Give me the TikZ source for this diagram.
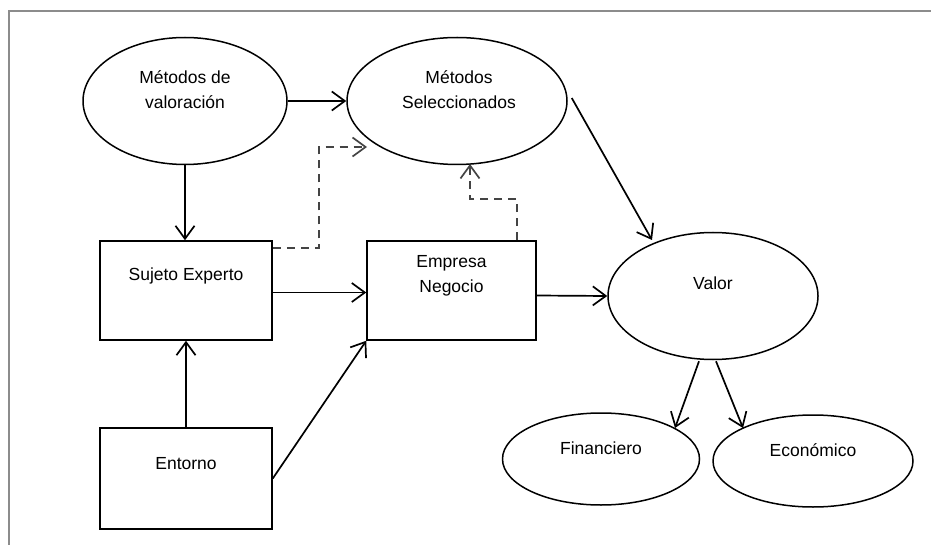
\documentclass[tikz,border=0pt]{standalone}
\usepackage{fontspec}
\setmainfont{Liberation Sans}
\usetikzlibrary{arrows.meta,shapes.geometric,calc}
\definecolor{framegray}{HTML}{8C8C8C}
\definecolor{dashgray}{HTML}{444444}
\begin{document}
\begin{tikzpicture}[x=1pt,y=-1pt,
  every node/.style={font=\fontsize{17.5}{25}\selectfont, inner sep=0pt, align=center},
  ell/.style={draw, ellipse, line width=1.5pt},
  box/.style={draw, rectangle, line width=1.5pt},
  arr/.style={line width=1.7pt, -{Straight Barb[length=13pt,width=19pt,line width=1.7pt]}},
  dsh/.style={line width=1.7pt, dashgray, dash pattern=on 8pt off 6pt, -{Straight Barb[length=13pt,width=19pt,line width=1.7pt,sep=0pt]}},
]
\useasboundingbox (0,0) rectangle (931,545);
\draw[framegray, line width=1.5pt] (9,545) -- (9,11) -- (931,11);

% shapes
\node[ell, minimum width=204pt, minimum height=127pt] (mdv) at (185,101) {};
\node (tmdv) at (185,90) {Métodos de\\valoración};
\node[ell, minimum width=220pt, minimum height=127pt] (ms) at (457,101) {};
\node (tms) at (459,90) {Métodos\\Seleccionados};
\node[box, minimum width=172pt, minimum height=99pt] (suj) at (186,290.5) {};
\node (tsuj) at (186,276) {Sujeto Experto};
\node[box, minimum width=172pt, minimum height=101pt] (ent) at (186,478.5) {};
\node (tent) at (186,464) {Entorno};
\node[box, minimum width=169pt, minimum height=99pt] (emp) at (451.5,290.5) {};
\node (temp) at (451.5,276) {Empresa\\Negocio};
\node[ell, minimum width=210pt, minimum height=127pt] (val) at (713,296) {};
\node (tval) at (713,283) {Valor};
\node[ell, minimum width=197pt, minimum height=92pt] (fin) at (601,459) {};
\node (tfin) at (601,448) {Financiero};
\node[ell, minimum width=200pt, minimum height=92pt] (eco) at (813,461) {};
\node (teco) at (813,450) {Económico};

% helper coordinates
\coordinate (d1) at (319,147);
\coordinate (msin) at (367,147);
\coordinate (d2) at (470,199);
\coordinate (msbot) at (470,164);
\coordinate (valin) at (652,240);
\coordinate (finin) at (675,428);
\coordinate (ecoin) at (743,428);

% connectors
\draw[arr] (mdv.east) -- (ms.west);
\draw[arr] (mdv.south) -- (mdv.south |- suj.north);
\draw[dsh] ($(suj.north east)+(0,8)$) -| (d1) -- (msin);
\draw[dsh] ($(emp.north east)+(-20,0)$) |- (d2) -- (msbot);
\draw[arr] ($(suj.east)+(0,2)$) -- ($(emp.west)+(0,2)$);
\draw[arr] (ent.north) -- (ent.north |- suj.south);
\draw[arr] (ent.east) -- (emp.south west);
\draw[arr] ($(emp.east)+(0,5)$) -- (val.west);
\draw[arr] ($(ms.east)+(4,-3)$) -- (valin);
\draw[arr] ($(val.south)+(-14,1)$) -- (finin);
\draw[arr] ($(val.south)+(3,1)$) -- (ecoin);
\end{tikzpicture}
\end{document}
